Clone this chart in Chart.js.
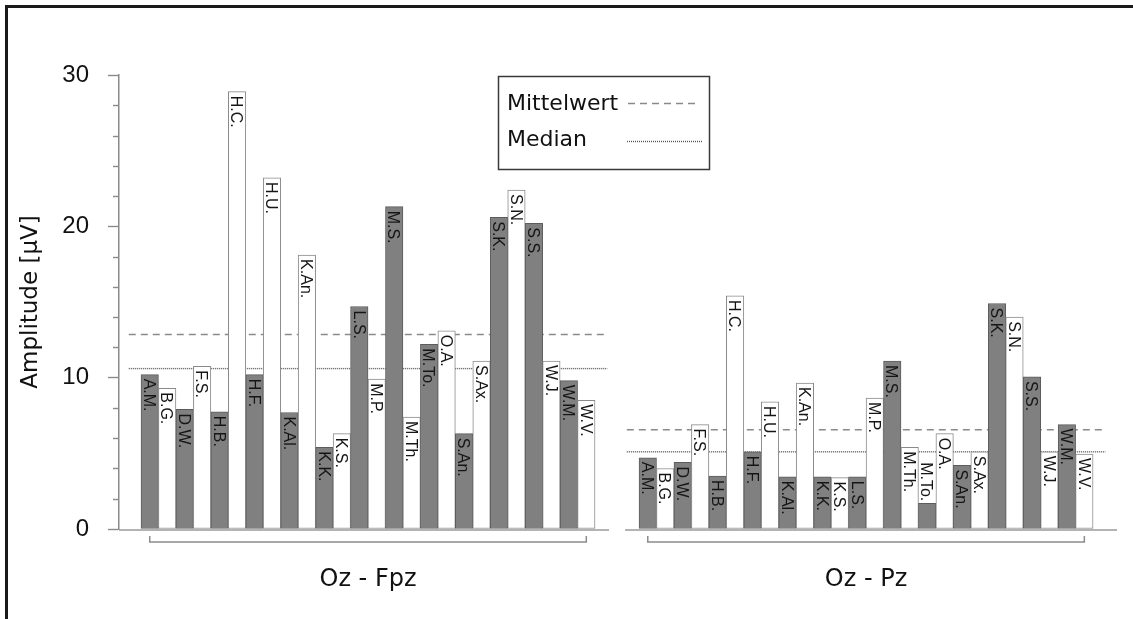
<!DOCTYPE html>
<html>
<head>
<meta charset="utf-8">
<script src="https://cdn.jsdelivr.net/npm/chart.js@4.4.1/dist/chart.umd.min.js"></script>
<style>
  html, body { margin: 0; padding: 0; background: #ffffff; }
  #wrap { position: relative; width: 1133px; height: 619px; overflow: hidden; }
  canvas { display: block; }
</style>
</head>
<body>
<div id="wrap"><canvas id="c" width="1133" height="619"></canvas></div>
<script>
// ---------- data ----------
const subjects = ['A.M.','B.G.','D.W.','F.S.','H.B.','H.C.','H.F.','H.U.','K.Al.','K.An.','K.K.','K.S.','L.S.',
                  'M.P.','M.S.','M.Th.','M.To.','O.A.','S.An.','S.Ax.','S.K.','S.N.','S.S.','W.J.','W.M.','W.V.'];
const fpzValues = [10.2, 9.3, 7.9, 10.75, 7.75, 28.9, 10.2, 23.2, 7.7, 18.1, 5.4, 6.3, 14.7,
                   9.9, 21.3, 7.4, 12.2, 13.1, 6.3, 11.1, 20.6, 22.4, 20.2, 11.1, 9.8, 8.5];
const pzValues  = [4.7, 4.0, 4.4, 6.9, 3.5, 15.4, 5.1, 8.4, 3.45, 9.65, 3.45, 3.4, 3.45,
                   8.65, 11.1, 5.4, 1.7, 6.3, 4.2, 5.1, 14.9, 14.0, 10.05, 5.1, 6.9, 4.95];
const groupNames = ['Oz - Fpz', 'Oz - Pz'];
const meanValues = [12.85, 6.56];
const medianValues = [10.6, 5.1];
const yTickLabels = [0, 10, 20, 30];
const legendLabels = ['Mittelwert', 'Median'];

// ---------- layout constants ----------
const groupOffset = [0, 28.52];     // x-unit offset of each group's first bar
const X_MIN = -1.76, X_MAX = 55.39;
const LINE_FROM = -1.2, LINE_TO = 26.2;

const groups = [fpzValues, pzValues];
const barPoints = [];
const barLabels = [];
const barColors = [];
const barBorders = [];
groups.forEach((vals, g) => {
  vals.forEach((v, i) => {
    barPoints.push({x: groupOffset[g] + i, y: v});
    barLabels.push(subjects[i]);
    barColors.push(i % 2 === 0 ? '#808080' : '#ffffff');
    barBorders.push(i % 2 === 0 ? '#5c5c5c' : '#8a8a8a');
  });
});

function hLine(g, val) {
  return [{x: groupOffset[g] + LINE_FROM, y: val}, {x: groupOffset[g] + LINE_TO, y: val}];
}
const MEAN_STYLE = {borderColor: '#8a8a8a', borderWidth: 1.4, borderDash: [7, 5]};
const MEDIAN_STYLE = {borderColor: '#555555', borderWidth: 1.4, borderDash: [1, 1]};

const datasets = [
  {type: 'bar', data: barPoints, backgroundColor: barColors, borderColor: barBorders,
   borderWidth: 1, borderSkipped: false, barPercentage: 1, categoryPercentage: 1, order: 0}
];
groups.forEach((vals, g) => {
  datasets.push(Object.assign({type: 'line', data: hLine(g, meanValues[g]), pointRadius: 0, fill: false, order: 2}, MEAN_STYLE));
  datasets.push(Object.assign({type: 'line', data: hLine(g, medianValues[g]), pointRadius: 0, fill: false, order: 1}, MEDIAN_STYLE));
});

const deco = {
  id: 'deco',
  beforeDraw(chart) {
    const ctx = chart.ctx;
    ctx.save();
    ctx.fillStyle = '#ffffff';
    ctx.fillRect(0, 0, chart.width, chart.height);
    ctx.strokeStyle = '#1a1a1a';
    ctx.lineWidth = 3;
    ctx.beginPath();
    ctx.moveTo(6.5, chart.height);
    ctx.lineTo(6.5, 6.5);
    ctx.lineTo(chart.width, 6.5);
    ctx.stroke();
    ctx.restore();
  },
  afterDatasetsDraw(chart) {
    const ctx = chart.ctx;
    const meta = chart.getDatasetMeta(0);
    ctx.save();
    ctx.fillStyle = '#151515';
    const fs = 16;
    ctx.font = fs + 'px "Liberation Sans", Arial, sans-serif';
    ctx.textAlign = 'left';
    ctx.textBaseline = 'alphabetic';
    meta.data.forEach((bar, i) => {
      const w = ctx.measureText(barLabels[i]).width;
      const h = bar.base - bar.y;
      let start = bar.y + 4;
      if (w + 6 > h) start = bar.y - 2 - w;   // too short: label sits on top of the bar
      ctx.save();
      ctx.translate(bar.x, start);
      ctx.rotate(Math.PI / 2);
      ctx.fillText(barLabels[i], 0, fs * 0.72 / 2);
      ctx.restore();
    });
    ctx.restore();
  },
  afterDraw(chart) {
    const ctx = chart.ctx;
    const xs = chart.scales.x, ys = chart.scales.y;
    const y0 = ys.getPixelForValue(0);
    ctx.save();
    // baselines for each group
    ctx.strokeStyle = '#9a9a9a';
    ctx.lineWidth = 1.5;
    const gapMid = 26.76;
    const segs = [[X_MIN, gapMid - 0.46], [gapMid + 0.46, X_MAX]];
    segs.forEach(s => {
      ctx.beginPath();
      ctx.moveTo(xs.getPixelForValue(s[0]), y0 + 1);
      ctx.lineTo(xs.getPixelForValue(s[1]), y0 + 1);
      ctx.stroke();
    });
    // minor y ticks
    ctx.strokeStyle = '#8a8a8a';
    ctx.lineWidth = 1.4;
    for (let v = 2; v < 30; v += 2) {
      if (v % 10 === 0) continue;
      const py = Math.round(ys.getPixelForValue(v)) + 0.5;
      ctx.beginPath();
      ctx.moveTo(chart.chartArea.left - 6, py);
      ctx.lineTo(chart.chartArea.left, py);
      ctx.stroke();
    }
    // brackets + group labels
    ctx.strokeStyle = '#8c8c8c';
    ctx.lineWidth = 1.5;
    ctx.fillStyle = '#111111';
    ctx.font = '24px "DejaVu Sans", sans-serif';
    ctx.textAlign = 'center';
    ctx.textBaseline = 'middle';
    groups.forEach((vals, g) => {
      const a = xs.getPixelForValue(groupOffset[g]);
      const b = xs.getPixelForValue(groupOffset[g] + vals.length - 1);
      const by = y0 + 13;
      ctx.beginPath();
      ctx.moveTo(a, by - 6);
      ctx.lineTo(a, by);
      ctx.lineTo(b, by);
      ctx.lineTo(b, by - 6);
      ctx.stroke();
      ctx.fillText(groupNames[g], (a + b) / 2, y0 + 51);
    });
    // legend
    ctx.strokeStyle = '#3a3a3a';
    ctx.lineWidth = 1.5;
    ctx.fillStyle = '#ffffff';
    ctx.fillRect(498, 76, 212, 94);
    ctx.strokeRect(498.5, 76.5, 211, 93);
    ctx.fillStyle = '#111111';
    ctx.font = '22px "DejaVu Sans", sans-serif';
    ctx.textAlign = 'left';
    ctx.textBaseline = 'alphabetic';
    ctx.fillText(legendLabels[0], 507, 110);
    ctx.fillText(legendLabels[1], 507, 146);
    [[MEAN_STYLE, 103, 628, 700], [MEDIAN_STYLE, 141, 627, 703]].forEach(([st, ly, x1, x2]) => {
      ctx.strokeStyle = st.borderColor;
      ctx.lineWidth = st.borderWidth;
      ctx.setLineDash(st.borderDash);
      ctx.beginPath();
      ctx.moveTo(x1, ly + 0.5);
      ctx.lineTo(x2, ly + 0.5);
      ctx.stroke();
    });
    ctx.setLineDash([]);
    ctx.restore();
  }
};

new Chart(document.getElementById('c'), {
  data: {datasets},
  options: {
    responsive: false,
    animation: false,
    devicePixelRatio: 1,
    layout: {padding: {left: 0, top: 75, right: 16, bottom: 90}},
    plugins: {legend: {display: false}, tooltip: {enabled: false}, title: {display: false}},
    scales: {
      x: {
        type: 'linear', display: false, offset: false, min: X_MIN, max: X_MAX,
        grid: {offset: false},
        ticks: {stepSize: 1000, includeBounds: false}
      },
      y: {
        type: 'linear', min: 0, max: 30,
        afterFit: s => { s.width = 119; },
        border: {display: true, color: '#8a8a8a', width: 1.5},
        grid: {drawOnChartArea: false, drawTicks: true, tickLength: 11, tickColor: '#8a8a8a', tickWidth: 1.4},
        ticks: {
          stepSize: 10, padding: 19, color: '#111111',
          font: {family: '"Liberation Sans", Arial, sans-serif', size: 24},
          callback: v => yTickLabels.includes(v) ? String(v) : ''
        },
        title: {
          display: true, text: 'Amplitude [μV]', color: '#111111',
          font: {family: '"DejaVu Sans", sans-serif', size: 23},
          padding: {top: 17, bottom: 0}
        }
      }
    }
  },
  plugins: [deco]
});
</script>
</body>
</html>
